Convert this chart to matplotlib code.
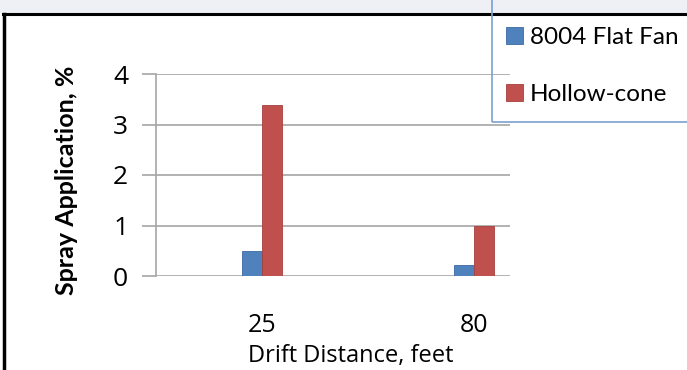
import numpy as np
import matplotlib
matplotlib.use("Agg")
from matplotlib import pyplot as plt
from matplotlib.patches import Rectangle
from matplotlib.lines import Line2D

# drift distances and spray application (%) per nozzle type
distances = ["25", "80"]
flat_fan = [0.5, 0.22]
hollow_cone = [3.38, 0.99]
series_names = ["8004 Flat Fan", "Hollow-cone"]
y_ticks = [0, 1, 2, 3, 4]

BLUE = "#4F81BD"
RED = "#C0504D"
GRID = "#A6A6A6"

W, H = 687, 370
fig = plt.figure(figsize=(W / 100, H / 100), dpi=100)
fig.patch.set_facecolor("white")

# light band on top and the black frame edges
fig.add_artist(Rectangle((0, 1 - 13 / H), 1, 13 / H, transform=fig.transFigure,
                         facecolor="#EEF0F5", edgecolor="none", zorder=0))
fig.add_artist(Line2D([3 / W, 1], [1 - 14 / H, 1 - 14 / H], transform=fig.transFigure,
                      color="black", lw=2.2, zorder=5))
fig.add_artist(Line2D([3.5 / W, 3.5 / W], [0, 1 - 14 / H], transform=fig.transFigure,
                      color="black", lw=2.5, zorder=5))

ax = fig.add_axes([156 / W, (H - 276) / H, (510 - 156) / W, (276 - 74) / H])
x = np.arange(len(distances))
bw = 0.095
ax.bar(x - bw / 2, flat_fan, bw, color=BLUE, edgecolor="#3A6AA6", lw=0.6,
       label=series_names[0], zorder=3)
ax.bar(x + bw / 2, hollow_cone, bw, color=RED, edgecolor="#A8403D", lw=0.6,
       label=series_names[1], zorder=3)

ax.set_xlim(-0.5, 1.17)
ax.set_ylim(0, 4)
ax.set_yticks(y_ticks)
ax.set_yticklabels([str(t) for t in y_ticks], fontsize=19, family="Open Sans")
ax.set_xticks(x)
ax.set_xticklabels(distances, fontsize=18, family="Open Sans")
ax.tick_params(axis="x", length=0, pad=27)
ax.tick_params(axis="y", length=10, width=1.2, color=GRID, pad=10)
ax.yaxis.grid(True, color=GRID, lw=1.2, zorder=0)
for side in ["top", "right", "bottom"]:
    ax.spines[side].set_visible(False)
ax.spines["left"].set_color(GRID)
ax.spines["left"].set_linewidth(1.2)

fig.text(351 / W, 1 - 356 / H, "Drift Distance, feet", ha="center", va="center",
         fontsize=17, family="Open Sans")
fig.text(67 / W, 1 - 180 / H, "Spray Application, %", ha="center", va="center",
         rotation=90, fontsize=18, fontweight="bold", family="Lato")

# legend box runs off the top and right edge
fig.add_artist(Rectangle((492 / W, 1 - 122 / H), 300 / W, 200 / H,
                         transform=fig.transFigure, facecolor="none",
                         edgecolor="#7BA0D0", lw=1.2, zorder=6))
leg = fig.legend(loc="upper left", bbox_to_anchor=(496 / W, 1 - 17 / H),
                 frameon=False, prop={"family": "Lato", "size": 17.5},
                 handlelength=0.7, handleheight=0.7, handletextpad=0.3,
                 labelspacing=1.5, borderaxespad=0)
leg.set_zorder(7)

fig.savefig("out.png", dpi=100)
